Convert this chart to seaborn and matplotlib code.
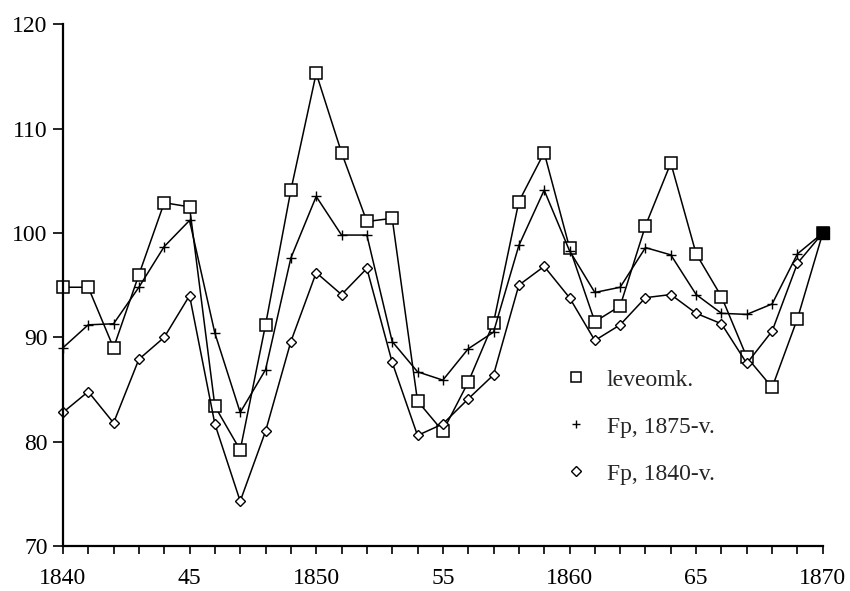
import numpy as np
import pandas as pd
import seaborn as sns
import matplotlib.pyplot as plt
from matplotlib.lines import Line2D

# index numbers, 1870 = 100
years = list(range(1840, 1871))

leveomk = [94.8, 94.8, 89.0, 96.0, 102.9, 102.5, 83.4, 79.2, 91.2, 104.1,
           115.3, 107.7, 101.1, 101.4, 83.9, 81.0, 85.7, 91.4, 103.0, 107.7,
           98.6, 91.5, 93.0, 100.7, 106.7, 98.0, 93.9, 88.1, 85.2, 91.8, 100.0]

fp_1875 = [89.0, 91.2, 91.3, 94.8, 98.7, 101.2, 90.4, 82.8, 86.9, 97.6,
           103.5, 99.8, 99.8, 89.6, 86.7, 85.9, 88.9, 90.5, 98.8, 104.1,
           98.3, 94.3, 94.8, 98.6, 97.9, 94.1, 92.3, 92.2, 93.2, 98.0, 100.0]

fp_1840 = [82.8, 84.8, 81.8, 87.9, 90.0, 94.0, 81.7, 74.3, 81.0, 89.6,
           96.2, 94.1, 96.6, 87.6, 80.6, 81.7, 84.1, 86.4, 95.0, 96.8,
           93.8, 89.7, 91.2, 93.8, 94.1, 92.3, 91.3, 87.5, 90.6, 97.1, 100.0]

labels = ["leveomk.", "Fp, 1875-v.", "Fp, 1840-v."]
x_ticks = [1840, 1845, 1850, 1855, 1860, 1865, 1870]
x_ticklabels = ["1840", "45", "1850", "55", "1860", "65", "1870"]
y_ticks = [70, 80, 90, 100, 110, 120]

df = pd.DataFrame({"year": years * 3,
                   "value": leveomk + fp_1875 + fp_1840,
                   "series": [labels[0]] * len(years) + [labels[1]] * len(years) + [labels[2]] * len(years)})

sns.set_style("white")
plt.rcParams['font.family'] = ['Liberation Serif', 'DejaVu Serif']

fig = plt.figure(figsize=(8.5, 5.91), dpi=100)
ax = fig.add_axes([0.074, 0.076, 0.894, 0.883])

marker_styles = {labels[0]: dict(marker="s", ms=9, mfc="white", mew=1.1),
                 labels[1]: dict(marker="+", ms=7, mfc="none", mew=1.0),
                 labels[2]: dict(marker="D", ms=5.5, mfc="white", mew=1.0)}

for lab in labels:
    sub = df[df.series == lab]
    sns.lineplot(data=sub, x="year", y="value", ax=ax, color="black", lw=1.1,
                 mec="black", clip_on=False, legend=False, **marker_styles[lab])

# the last point shows as a solid square
last = df[df.series == labels[0]].iloc[[-1]]
ax.plot(last.year, last.value, marker="s", ms=9, color="black", ls="none",
        zorder=5, clip_on=False)

ax.set_xlim(1840, 1870)
ax.set_ylim(70, 120)
ax.set_xticks(x_ticks)
ax.set_xticklabels(x_ticklabels)
ax.set_xticks(years, minor=True)
ax.set_yticks(y_ticks)
ax.set_xlabel("")
ax.set_ylabel("")

for s in ["top", "right"]:
    ax.spines[s].set_visible(False)
for s in ["left", "bottom"]:
    ax.spines[s].set_linewidth(1.6)
    ax.spines[s].set_color("black")

ax.tick_params(axis="x", which="both", direction="out", length=6, width=1.2,
               bottom=True, labelsize=17, pad=10, colors="black")
ax.tick_params(axis="y", which="major", direction="out", length=7, width=1.2,
               left=True, labelsize=17, pad=4, colors="black")

# legend: markers only, no line
handles = [Line2D([], [], ls="none", color="black", mec="black",
                  **dict(marker_styles[lab], ms=marker_styles[lab]["ms"] * 0.85))
           for lab in labels]
ax.legend(handles=handles, labels=labels, loc="upper left",
          bbox_to_anchor=(0.632, 0.38), frameon=False, fontsize=17,
          handlelength=1.0, handletextpad=0.8, labelspacing=1.08)

fig.savefig("out.png", dpi=100)
